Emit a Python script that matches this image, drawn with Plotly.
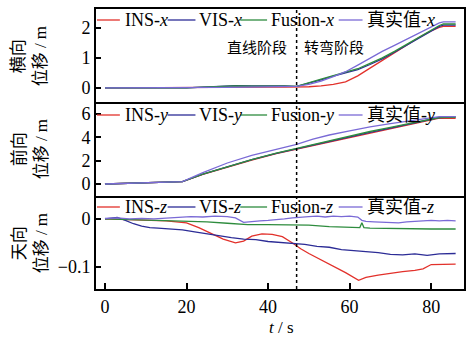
import plotly.graph_objects as go

# ---------------- data ----------------
# Top panel: lateral displacement (m)
tx_ins = [0, 10, 20, 25, 30, 35, 40, 44, 47, 50, 53, 56, 59, 62, 65, 68, 71, 74, 77, 80, 82, 83, 86]
x_ins = [0, 0, 0.0, 0.01, 0.015, 0.02, 0.025, 0.03, 0.03, 0.04, 0.07, 0.12, 0.2, 0.4, 0.66, 0.92, 1.16, 1.42, 1.68, 1.9, 2.02, 2.05, 2.05]
tx_vis = [0, 10, 20, 24, 28, 32, 36, 40, 44, 47, 50, 53, 56, 59, 62, 65, 68, 71, 74, 77, 80, 82, 83, 86]
x_vis = [0, 0, 0.0, 0.03, 0.06, 0.08, 0.07, 0.08, 0.07, 0.05, 0.15, 0.27, 0.39, 0.5, 0.61, 0.78, 0.97, 1.19, 1.43, 1.67, 1.9, 2.05, 2.09, 2.09]
tx_fus = [0, 10, 20, 24, 28, 32, 36, 40, 44, 47, 50, 53, 56, 59, 62, 65, 68, 71, 74, 77, 80, 82, 83, 86]
x_fus = [0, 0, 0.0, 0.03, 0.05, 0.07, 0.06, 0.07, 0.06, 0.05, 0.16, 0.29, 0.41, 0.53, 0.64, 0.82, 1.0, 1.22, 1.46, 1.7, 1.93, 2.08, 2.13, 2.13]
tx_tru = [0, 10, 20, 25, 30, 35, 40, 44, 47, 50, 53, 56, 59, 62, 65, 68, 71, 74, 77, 80, 82, 83, 86]
x_tru = [0, 0, 0.0, 0.01, 0.02, 0.03, 0.04, 0.05, 0.05, 0.12, 0.23, 0.38, 0.54, 0.76, 1.0, 1.22, 1.42, 1.62, 1.82, 2.02, 2.17, 2.2, 2.2]

# Middle panel: forward displacement (m)
ty = [0, 10, 19, 24, 30, 36, 42, 47, 51, 55, 60, 65, 70, 75, 79, 82, 86]
y_ins = [0, 0.08, 0.2, 0.82, 1.45, 2.05, 2.6, 2.98, 3.3, 3.62, 4.02, 4.35, 4.72, 5.1, 5.42, 5.65, 5.62]
y_vis = [0, 0.08, 0.2, 0.84, 1.47, 2.08, 2.63, 3.02, 3.35, 3.68, 4.08, 4.42, 4.79, 5.15, 5.46, 5.7, 5.75]
y_fus = [0, 0.08, 0.2, 0.85, 1.5, 2.1, 2.65, 3.05, 3.4, 3.75, 4.15, 4.5, 4.85, 5.2, 5.48, 5.7, 5.72]
y_tru = [0, 0.08, 0.2, 0.97, 1.8, 2.45, 3.0, 3.4, 3.85, 4.2, 4.55, 4.9, 5.18, 5.44, 5.63, 5.77, 5.77]

# Bottom panel: vertical displacement (m)
tz_ins = [0, 5, 10, 15, 20, 23, 26, 29, 32, 34, 36, 38.5, 41, 43.5, 46, 48, 50, 53, 56, 59, 62.2, 64, 67, 70, 73, 76, 78, 80, 83, 86]
z_ins = [0, -0.001, -0.002, -0.004, -0.008, -0.018, -0.03, -0.042, -0.05, -0.046, -0.036, -0.031, -0.032, -0.037, -0.05, -0.062,
         -0.072, -0.085, -0.098, -0.112, -0.128, -0.122, -0.117, -0.113, -0.11, -0.107, -0.104, -0.095, -0.094, -0.094]
tz_vis = [0, 3, 5, 7, 9, 11, 13, 16, 19, 22, 25, 28, 31, 34, 37, 40, 43, 46, 49, 52, 55, 58, 61, 64, 67, 70, 73, 76, 79, 82, 84, 86]
z_vis = [0, 0.003, -0.003, -0.01, -0.015, -0.018, -0.019, -0.021, -0.023, -0.027, -0.031, -0.036, -0.039, -0.042, -0.043, -0.047,
         -0.049, -0.052, -0.053, -0.057, -0.059, -0.064, -0.066, -0.069, -0.07, -0.074, -0.075, -0.073, -0.076, -0.073, -0.072, -0.072]
tz_fus = [0, 5, 10, 15, 20, 25, 30, 35, 40, 45, 50, 55, 60, 62.5, 63, 63.5, 65, 70, 75, 80, 86]
z_fus = [0, -0.001, -0.002, -0.003, -0.004, -0.006, -0.009, -0.012, -0.012, -0.012, -0.013, -0.016, -0.018, -0.018, -0.008, -0.018,
         -0.019, -0.02, -0.021, -0.021, -0.021]
tz_tru = [0, 3, 6, 9, 12, 15, 18, 21, 24, 27, 30, 32, 34, 36, 38, 40, 42, 44, 46, 48, 50, 52, 54, 56, 58, 60, 62, 63, 64, 66,
          68, 70, 72, 74, 76, 78, 80, 82, 84, 86]
z_tru = [0.001, 0.002, 0.0, 0.001, 0.0, 0.002, 0.004, 0.005, 0.004, 0.006, 0.005, 0.002, -0.007, -0.005, -0.004, -0.003, -0.002,
         0.0, 0.002, 0.004, 0.005, 0.006, 0.004, 0.006, 0.005, 0.006, 0.004, -0.003, -0.005, -0.006, -0.007, -0.008, -0.008,
         -0.006, -0.005, -0.004, -0.003, -0.004, -0.003, -0.004]

series_names = ["INS", "VIS", "Fusion", "真实值"]
axis_letters = ["x", "y", "z"]
panel_titles = ["横向<br>位移 / m", "前向<br>位移 / m", "天向<br>位移 / m"]
x_ticks = [0, 20, 40, 60, 80]
top_ticks = [0, 1, 2]
mid_ticks = [0, 2, 4, 6]
bot_ticks = [0, -0.1]
bot_tick_text = ["0", "−0.1"]
split_t = 47
stage_labels = ["直线阶段", "转弯阶段"]

colors = ["#e2312b", "#2c2c96", "#2e8c3e", "#7a6ad6"]

# ---------------- figure ----------------
W, H = 469, 337
L, R, T, B = 96, 3, 9, 48
PW, PH = W - L - R, H - T - B

fig = go.Figure()

panels = [
    ("y3", [(tx_ins, x_ins), (tx_vis, x_vis), (tx_fus, x_fus), (tx_tru, x_tru)]),
    ("y2", [(ty, y_ins), (ty, y_vis), (ty, y_fus), (ty, y_tru)]),
    ("y", [(tz_ins, z_ins), (tz_vis, z_vis), (tz_fus, z_fus), (tz_tru, z_tru)]),
]
xmap = {"y3": "x3", "y2": "x2", "y": "x"}
for yax, data in panels:
    for (tt, vv), c in zip(data, colors):
        fig.add_trace(go.Scatter(x=tt, y=vv, mode="lines", line=dict(color=c, width=1.3),
                                 xaxis=xmap[yax], yaxis=yax, showlegend=False, hoverinfo="skip"))

serif = "Times New Roman, Liberation Serif, Noto Sans CJK SC, serif"
font_tick = dict(family=serif, size=18, color="black")
LW = 1.8

common_x = dict(range=[-2.2, 88.05], showline=True, linewidth=LW, linecolor="black",
                showgrid=False, zeroline=False)
common_y = dict(showline=True, linewidth=LW, linecolor="black", mirror=True, showgrid=False,
                zeroline=False, ticks="inside", ticklen=5, tickwidth=1.5, tickcolor="black",
                tickfont=font_tick)

fig.update_layout(
    width=W, height=H, margin=dict(l=L, r=R, t=T, b=B),
    paper_bgcolor="white", plot_bgcolor="white",
    font=dict(family=serif),
    xaxis=dict(common_x, anchor="y", domain=[0, 1], mirror=False, ticks="inside", ticklen=6, tickwidth=1.5,
               tickcolor="black", tickvals=x_ticks, tickfont=font_tick),
    xaxis2=dict(common_x, anchor="y2", matches="x", mirror=False, showticklabels=False, ticks=""),
    xaxis3=dict(common_x, anchor="y3", matches="x", mirror=True, showticklabels=False, ticks=""),
    yaxis=dict(common_y, domain=[0, 1/3], range=[-0.146, 0.0485], tickvals=bot_ticks, ticktext=bot_tick_text),
    yaxis2=dict(common_y, domain=[1/3, 2/3], range=[-1.0, 7.0], tickvals=mid_ticks),
    yaxis3=dict(common_y, domain=[2/3, 1], range=[-0.48, 2.63], tickvals=top_ticks),
)

def px_to_paper_x(px):
    return (px - L) / PW

def py_to_paper_y(py):
    return (H - B - py) / PH

# dotted split line
fig.add_shape(type="line", xref="x", yref="paper", x0=split_t, x1=split_t, y0=0, y1=1,
              line=dict(color="black", width=1.5, dash="dot"))

# legends drawn in each panel
legend_rows = [20, 115, 207]
line_spans = [(97, 120, 123), (168, 196, 198), (241, 268, 270), (340, 364, 366)]
for row_py, letter in zip(legend_rows, axis_letters):
    yp = py_to_paper_y(row_py)
    for (lx0, lx1, tx), name, c in zip(line_spans, series_names, colors):
        fig.add_shape(type="line", xref="paper", yref="paper",
                      x0=px_to_paper_x(lx0), x1=px_to_paper_x(lx1), y0=yp, y1=yp,
                      line=dict(color=c, width=1.3))
        fig.add_annotation(xref="paper", yref="paper", x=px_to_paper_x(tx), y=yp,
                           xanchor="left", yanchor="middle", showarrow=False,
                           text=f"{name}-<i>{letter}</i>",
                           font=dict(family=serif, size=18, color="black"))

# stage labels
fig.add_annotation(xref="paper", yref="paper", x=px_to_paper_x(290), y=py_to_paper_y(47),
                   xanchor="right", yanchor="middle", showarrow=False, text=stage_labels[0],
                   font=dict(family="Noto Sans CJK SC", size=15, color="black"))
fig.add_annotation(xref="paper", yref="paper", x=px_to_paper_x(303), y=py_to_paper_y(47),
                   xanchor="left", yanchor="middle", showarrow=False, text=stage_labels[1],
                   font=dict(family="Noto Sans CJK SC", size=15, color="black"))

# y titles
for title, cy in zip(panel_titles, [56, 149, 243]):
    fig.add_annotation(xref="paper", yref="paper", x=px_to_paper_x(30), y=py_to_paper_y(cy),
                       xanchor="center", yanchor="middle", showarrow=False, textangle=-90,
                       text=title, font=dict(family=serif, size=17, color="black"))

# x title
fig.add_annotation(xref="paper", yref="paper", x=px_to_paper_x(283), y=py_to_paper_y(327),
                   xanchor="center", yanchor="middle", showarrow=False,
                   text="<i>t</i> / s", font=dict(family=serif, size=17, color="black"))

fig.write_html("out.html")
